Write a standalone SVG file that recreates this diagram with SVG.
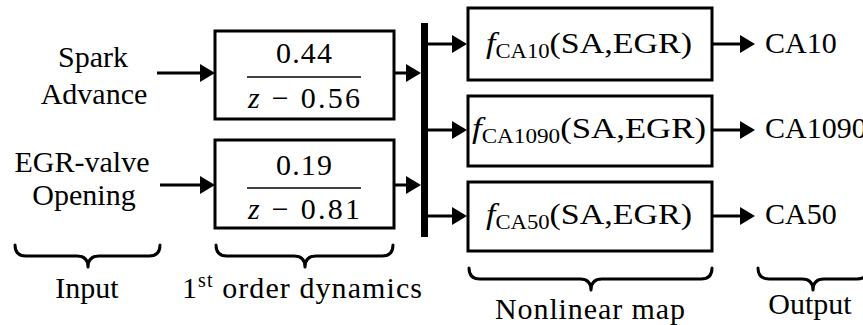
<svg xmlns="http://www.w3.org/2000/svg" width="863" height="325" viewBox="0 0 863 325" font-family="'Liberation Serif', 'Times New Roman', serif" font-size="30">
<style>
text{font-family:'Liberation Serif','Times New Roman',serif;font-size:30px;fill:#000}
.box{fill:#fff;stroke:#000;stroke-width:3}
.frac{stroke:#000;stroke-width:1.6}
.conn{stroke:#000;stroke-width:3;fill:none}
.head{fill:#000;stroke:none}
.brace{stroke:#000;stroke-width:3;fill:none;stroke-linecap:round;stroke-linejoin:round}
</style>

<g id="in-spark">
<text x="93" y="67" text-anchor="middle">Spark</text>
<text x="94" y="104" text-anchor="middle">Advance</text>
</g>
<g id="in-egr">
<text x="82" y="172" text-anchor="middle">EGR-valve</text>
<text x="84" y="205" text-anchor="middle">Opening</text>
</g>

<g id="tf1">
<rect class="box" x="215" y="31" width="179" height="88"/>
<text x="304" y="63" text-anchor="middle" textLength="56" lengthAdjust="spacing">0.44</text>
<line class="frac" x1="247" y1="77" x2="361" y2="77"/>
<text x="304" y="108" text-anchor="middle" textLength="112" lengthAdjust="spacing"><tspan font-style="italic">z</tspan> − 0.56</text>
</g>
<g id="tf2">
<rect class="box" x="215" y="140" width="179" height="88"/>
<text x="304" y="175" text-anchor="middle" textLength="56" lengthAdjust="spacing">0.19</text>
<line class="frac" x1="247" y1="188" x2="361" y2="188"/>
<text x="304" y="219" text-anchor="middle" textLength="112" lengthAdjust="spacing"><tspan font-style="italic">z</tspan> − 0.81</text>
</g>

<g id="bus">
<rect x="421" y="23" width="7" height="214" fill="#000"/>
</g>

<g id="map10">
<rect class="box" x="468" y="8" width="244" height="72"/>
<text x="589" y="53" text-anchor="middle" textLength="206" lengthAdjust="spacingAndGlyphs"><tspan font-style="italic">f</tspan><tspan font-size="20" dy="5">CA10</tspan><tspan dy="-5">(SA,EGR)</tspan></text>
</g>
<g id="map1090">
<rect class="box" x="468" y="96" width="244" height="70"/>
<text x="589" y="138" text-anchor="middle" textLength="234" lengthAdjust="spacingAndGlyphs"><tspan font-style="italic">f</tspan><tspan font-size="20" dy="5">CA1090</tspan><tspan dy="-5">(SA,EGR)</tspan></text>
</g>
<g id="map50">
<rect class="box" x="468" y="182" width="244" height="69"/>
<text x="589" y="224" text-anchor="middle" textLength="206" lengthAdjust="spacingAndGlyphs"><tspan font-style="italic">f</tspan><tspan font-size="20" dy="5">CA50</tspan><tspan dy="-5">(SA,EGR)</tspan></text>
</g>

<g id="out10"><text x="765" y="53">CA10</text></g>
<g id="out1090"><text x="765" y="138">CA1090</text></g>
<g id="out50"><text x="765" y="224">CA50</text></g>

<g id="connectors">
<line class="conn" x1="157" y1="73" x2="202" y2="73"/>
<path class="head" d="M200,64 L215,73 L200,82 Z"/>
<line class="conn" x1="160" y1="185" x2="202" y2="185"/>
<path class="head" d="M200,176 L215,185 L200,194 Z"/>
<line class="conn" x1="394" y1="73" x2="408" y2="73"/>
<path class="head" d="M406,64 L421,73 L406,82 Z"/>
<line class="conn" x1="394" y1="185" x2="408" y2="185"/>
<path class="head" d="M406,176 L421,185 L406,194 Z"/>
<line class="conn" x1="428" y1="44" x2="454" y2="44"/>
<path class="head" d="M452,35 L467,44 L452,53 Z"/>
<line class="conn" x1="428" y1="130" x2="454" y2="130"/>
<path class="head" d="M452,121 L467,130 L452,139 Z"/>
<line class="conn" x1="428" y1="216" x2="454" y2="216"/>
<path class="head" d="M452,207 L467,216 L452,225 Z"/>
<line class="conn" x1="712" y1="44" x2="742" y2="44"/>
<path class="head" d="M740,35 L755,44 L740,53 Z"/>
<line class="conn" x1="712" y1="130" x2="742" y2="130"/>
<path class="head" d="M740,121 L755,130 L740,139 Z"/>
<line class="conn" x1="712" y1="216" x2="742" y2="216"/>
<path class="head" d="M740,207 L755,216 L740,225 Z"/>
</g>

<g id="brace-input">
<path class="brace" d="M15,245 Q15,256 26,256 L77,256 Q88,256 88,267 Q88,256 99,256 L149,256 Q160,256 160,245"/>
<text x="87" y="298" text-anchor="middle">Input</text>
</g>
<g id="brace-dyn">
<path class="brace" d="M216,245 Q216,256 227,256 L294,256 Q305,256 305,267 Q305,256 316,256 L382,256 Q393,256 393,245"/>
<text x="182" y="298" textLength="240" lengthAdjust="spacing">1<tspan font-size="20" dy="-11">st</tspan><tspan dy="11"> order dynamics</tspan></text>
</g>
<g id="brace-map">
<path class="brace" d="M469,268 Q469,279 480,279 L580,279 Q591,279 591,290 Q591,279 602,279 L701,279 Q712,279 712,268"/>
<text x="590" y="319" text-anchor="middle" textLength="190" lengthAdjust="spacing">Nonlinear map</text>
</g>
<g id="brace-out">
<path class="brace" d="M758,268 Q758,279 769,279 L802,279 Q813,279 813,290 Q813,279 824,279 L857,279 Q868,279 868,268"/>
<text x="810" y="314" text-anchor="middle">Output</text>
</g>
</svg>
